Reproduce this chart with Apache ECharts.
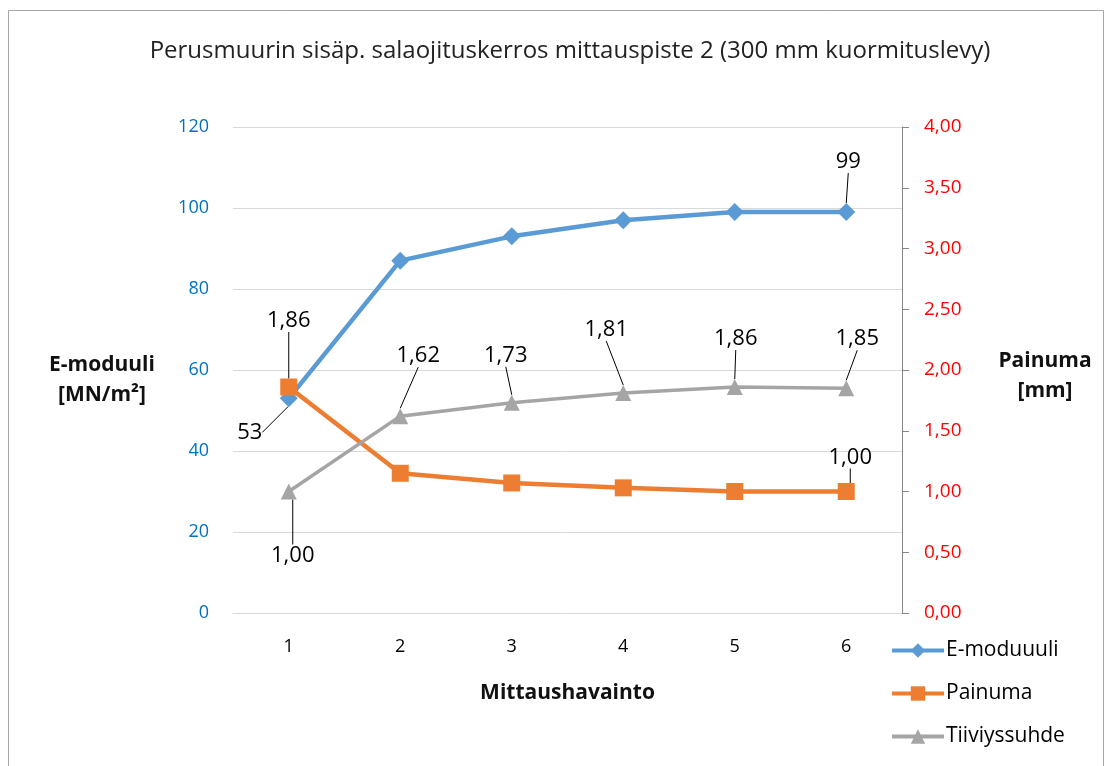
<!DOCTYPE html>
<html>
<head>
<meta charset="utf-8">
<script src="https://cdn.jsdelivr.net/npm/echarts@6/dist/echarts.min.js"></script>
<style>
  html, body { margin: 0; padding: 0; background: #fff; }
  #chart { width: 1109px; height: 766px; }
</style>
</head>
<body>
<div id="chart"></div>
<script>
var categories = ["1", "2", "3", "4", "5", "6"];
var eModuuli = [53, 87, 93, 97, 99, 99];
var painuma = [1.86, 1.15, 1.07, 1.03, 1.00, 1.00];
var tiiviyssuhde = [1.00, 1.62, 1.73, 1.81, 1.86, 1.85];

// which points carry a data label
var eLabelled = [0, 5];
var pLabelled = [0, 5];

// label centre offsets from the marker, in px (per series, per point)
var labelOffsets = [
  [[-39, 34], null, null, null, null, [2, -50]],
  [[0, -66], null, null, null, null, [4, -34]],
  [[4, 64], [18, -60], [-6, -47], [-17, -63], [1, -48], [11, -49]]
];

var font = "'Open Sans', 'Noto Sans', sans-serif";

function fmt(v) {
  return v.toFixed(2).replace(".", ",");
}

function buildData(values, labelled) {
  return values.map(function (v, i) {
    return {
      value: v,
      label: { show: labelled == null || labelled.indexOf(i) >= 0 }
    };
  });
}

var labelStyle = {
  color: "#000",
  fontSize: 22,
  fontFamily: font
};
var labelLine = {
  show: true,
  lineStyle: { color: "#000", width: 1 }
};

var chart = echarts.init(document.getElementById("chart"));

var option = {
  backgroundColor: "#fff",
  animation: false,
  graphic: [
    {
      type: "rect",
      shape: { x: 8.5, y: 10.5, width: 1095, height: 780 },
      style: { fill: "none", stroke: "#a6a6a6", lineWidth: 1 },
      silent: true
    }
  ],
  title: [
    {
      text: "Perusmuurin sisäp. salaojituskerros mittauspiste 2 (300 mm kuormituslevy)",
      left: 565,
      top: 34,
      textAlign: "center",
      textStyle: { fontSize: 24, fontWeight: "normal", color: "#222", fontFamily: font }
    },
    {
      text: "E-moduuli\n[MN/m²]",
      left: 97,
      top: 345,
      textAlign: "center",
      textStyle: { fontSize: 21, fontWeight: "bold", color: "#111", lineHeight: 30, fontFamily: font }
    },
    {
      text: "Painuma\n[mm]",
      left: 1040,
      top: 341,
      textAlign: "center",
      textStyle: { fontSize: 21, fontWeight: "bold", color: "#111", lineHeight: 30, fontFamily: font }
    }
  ],
  legend: {
    orient: "vertical",
    left: 885,
    top: 635,
    itemWidth: 52,
    itemHeight: 18,
    itemGap: 22,
    lineStyle: { width: 4 },
    textStyle: { fontSize: 21, color: "#000", fontFamily: font, padding: [0, 0, 0, -3] },
    data: ["E-moduuuli", "Painuma", "Tiiviyssuhde"]
  },
  grid: {
    left: 233,
    right: 207,
    top: 127,
    bottom: 153
  },
  xAxis: {
    type: "category",
    data: categories,
    boundaryGap: true,
    name: "Mittaushavainto",
    nameLocation: "middle",
    nameGap: 70,
    nameTextStyle: { fontSize: 21, fontWeight: "bold", color: "#111", fontFamily: font },
    axisLine: { show: true, lineStyle: { color: "#d9d9d9", width: 1 } },
    axisTick: { show: false },
    axisLabel: { color: "#000", fontSize: 18, margin: 25, fontFamily: font }
  },
  yAxis: [
    {
      type: "value",
      min: 0,
      max: 120,
      interval: 20,
      axisLine: { show: false },
      axisTick: { show: false },
      axisLabel: { color: "#0070c0", fontSize: 18, margin: 24, fontFamily: font },
      splitLine: { lineStyle: { color: "#d9d9d9", width: 1 } }
    },
    {
      type: "value",
      min: 0,
      max: 4,
      interval: 0.5,
      position: "right",
      axisLine: { show: true, lineStyle: { color: "#868686", width: 1 } },
      axisTick: { show: true, length: 7, lineStyle: { color: "#868686" } },
      axisLabel: {
        color: "#ff0000",
        fontSize: 19,
        margin: 22,
        fontFamily: font,
        formatter: function (v) { return fmt(v); }
      },
      splitLine: { show: false }
    }
  ],
  series: [
    {
      name: "E-moduuuli",
      type: "line",
      yAxisIndex: 0,
      data: buildData(eModuuli, eLabelled),
      symbol: "diamond",
      symbolSize: 18,
      color: "#5b9bd5",
      lineStyle: { width: 4.5, color: "#5b9bd5" },
      itemStyle: { color: "#5b9bd5" },
      label: Object.assign({ position: "top" }, labelStyle),
      labelLine: labelLine
    },
    {
      name: "Painuma",
      type: "line",
      yAxisIndex: 1,
      data: buildData(painuma, pLabelled),
      symbol: "rect",
      symbolSize: 17,
      color: "#ed7d31",
      lineStyle: { width: 4.5, color: "#ed7d31" },
      itemStyle: { color: "#ed7d31" },
      label: Object.assign({
        position: "top",
        formatter: function (p) { return fmt(p.value); }
      }, labelStyle),
      labelLine: labelLine
    },
    {
      name: "Tiiviyssuhde",
      type: "line",
      yAxisIndex: 1,
      data: buildData(tiiviyssuhde, null),
      symbol: "triangle",
      symbolSize: 16,
      color: "#a5a5a5",
      lineStyle: { width: 3.5, color: "#a5a5a5" },
      itemStyle: { color: "#a5a5a5" },
      label: Object.assign({
        position: "top",
        formatter: function (p) { return fmt(p.value); }
      }, labelStyle),
      labelLine: labelLine
    }
  ],
  labelLayout: function (params) {
    var off = labelOffsets[params.seriesIndex] && labelOffsets[params.seriesIndex][params.dataIndex];
    if (!off || !params.rect) return {};
    return {
      x: params.rect.x + params.rect.width / 2 + off[0],
      y: params.rect.y + params.rect.height / 2 + off[1],
      align: "center",
      verticalAlign: "middle"
    };
  }
};

chart.setOption(option);
</script>
</body>
</html>
